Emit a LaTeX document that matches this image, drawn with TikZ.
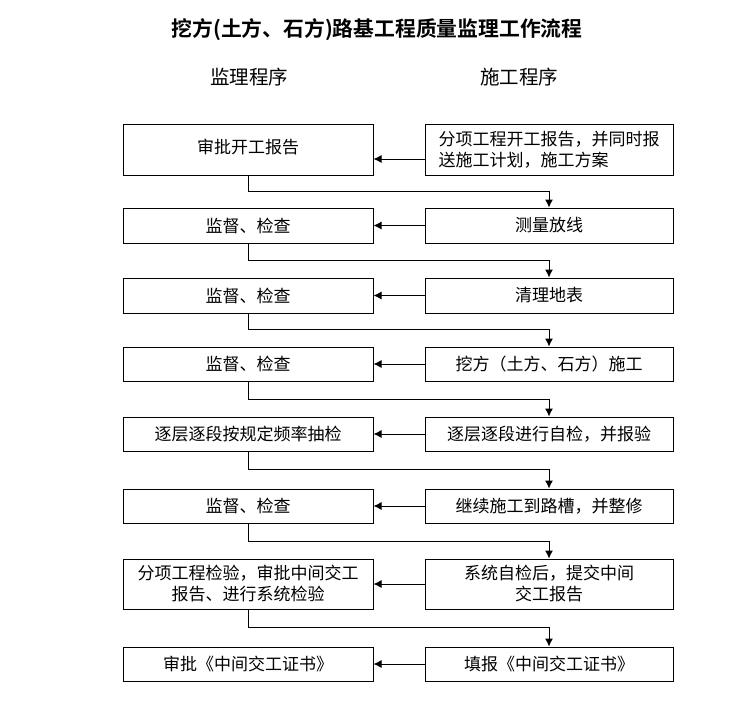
\documentclass[tikz,border=0pt]{standalone}
\usepackage{fontspec}
\setmainfont{Noto Sans CJK SC}
\newfontfamily\titlefont{Noto Sans CJK SC Bold}
\usetikzlibrary{arrows.meta}
\tikzset{
  box/.style={draw, line width=1pt, inner sep=2pt, align=center, font=\fontsize{17}{21}\selectfont},
  lbox/.style={box, minimum width=250pt},
  rbox/.style={box, minimum width=248pt},
  flow/.style={line width=1pt, -{Latex[length=8pt,width=8pt]}},
  hdr/.style={font=\fontsize{19.5}{23}\selectfont},
}
\begin{document}
\begin{tikzpicture}[x=1pt,y=-1pt]
\useasboundingbox (0,0) rectangle (754,704);
\node[font=\titlefont\fontsize{20.8}{25}\selectfont] (title) at (377,30) {挖方(土方、石方)路基工程质量监理工作流程};
\node[hdr] (h1) at (249,77) {监理程序};
\node[hdr] (h2) at (519,77) {施工程序};

\node[lbox, minimum height=51pt] (L1) at (248,149.5) {\raisebox{6pt}{审批开工报告}};
\node[rbox, minimum height=51pt, align=left] (R1) at (549,149.5) {分项工程开工报告，并同时报\\送施工计划，施工方案};
\node[lbox, minimum height=35pt] (L2) at (248,225.5) {监督、检查};
\node[rbox, minimum height=35pt] (R2) at (549,225.5) {测量放线};
\node[lbox, minimum height=35pt] (L3) at (248,295.5) {监督、检查};
\node[rbox, minimum height=35pt] (R3) at (549,295.5) {清理地表};
\node[lbox, minimum height=34pt] (L4) at (248,364) {监督、检查};
\node[rbox, minimum height=34pt] (R4) at (549,364) {挖方（土方、石方）施工};
\node[lbox, minimum height=34pt] (L5) at (248,434) {逐层逐段按规定频率抽检};
\node[rbox, minimum height=34pt] (R5) at (549,434) {逐层逐段进行自检，并报验};
\node[lbox, minimum height=34pt] (L6) at (248,506) {监督、检查};
\node[rbox, minimum height=34pt] (R6) at (549,506) {继续施工到路槽，并整修};
\node[lbox, minimum height=50pt] (L7) at (248,584) {分项工程检验，审批中间交工\\报告、进行系统检验};
\node[rbox, minimum height=50pt] (R7) at (549,584) {系统自检后，提交中间\\交工报告};
\node[lbox, minimum height=34pt] (L8) at (248,664) {审批《中间交工证书》};
\node[rbox, minimum height=34pt] (R8) at (549,664) {填报《中间交工证书》};

\draw[flow] (R1.west |- 0,159) -- (L1.east |- 0,159);
\foreach \i in {2,...,8} {
  \draw[flow] (R\i.west) -- (L\i.east);
}
\draw[flow] (L1.south) |- (248,191) -| (R2.north);
\draw[flow] (L2.south) |- (248,260) -| (R3.north);
\draw[flow] (L3.south) |- (248,329) -| (R4.north);
\draw[flow] (L4.south) |- (248,399) -| (R5.north);
\draw[flow] (L5.south) |- (248,469) -| (R6.north);
\draw[flow] (L6.south) |- (248,541) -| (R7.north);
\draw[flow] (L7.south) |- (248,627) -| (R8.north);
\end{tikzpicture}
\end{document}
